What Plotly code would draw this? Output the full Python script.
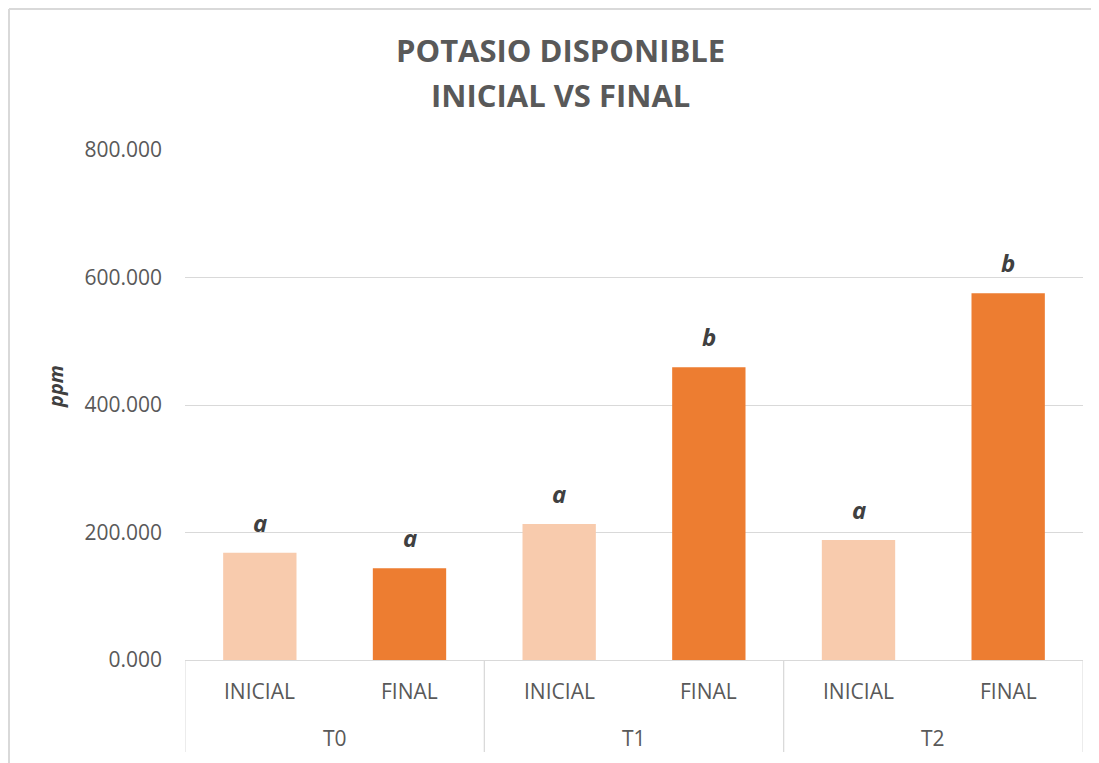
import plotly.graph_objects as go

groups = ["T0", "T0", "T1", "T1", "T2", "T2"]
stages = ["INICIAL", "FINAL", "INICIAL", "FINAL", "INICIAL", "FINAL"]
values = [168.3, 143.8, 213.3, 459.1, 188.2, 575.2]
letters = ["a", "a", "a", "b", "a", "b"]
y_ticks = [0, 200, 400, 600, 800]
title_lines = ["POTASIO DISPONIBLE", "INICIAL VS FINAL"]
y_title = "ppm"

stage_colors = {"INICIAL": "#F8CBAD", "FINAL": "#ED7D31"}

W, H = 1091, 755
L, R, T, B = 177, 16, 142, 103
pw, ph = W - L - R, H - T - B

idx = list(range(len(values)))

fig = go.Figure(go.Bar(
    x=idx,
    y=values,
    marker=dict(color=[stage_colors[s] for s in stages], line=dict(width=0)),
    width=0.49,
    hovertext=[f"{g} {s}" for g, s in zip(groups, stages)],
))

lab_font = dict(family="Open Sans", size=21, color="#595959")
title_font = dict(family="Open Sans", size=31, color="#595959")

# bar letters
for i, (v, t) in enumerate(zip(values, letters)):
    fig.add_annotation(
        x=i, y=v, text=f"<b><i>{t}</i></b>", showarrow=False,
        yanchor="bottom", yshift=12,
        font=dict(family="Open Sans", size=24, color="#404040"),
    )

# inner category labels
for i, s in enumerate(stages):
    fig.add_annotation(x=i, y=0, xref="x", yref="paper", text=s, showarrow=False,
                       yanchor="middle", yshift=-31, font=lab_font)

# outer group labels and dividers
div_depth = 92 / ph
unique_groups = list(dict.fromkeys(groups))
shapes = []
for g in unique_groups:
    members = [i for i, gg in enumerate(groups) if gg == g]
    center = sum(members) / len(members)
    fig.add_annotation(x=center, y=0, xref="x", yref="paper", text=g, showarrow=False,
                       yanchor="middle", yshift=-78, font=lab_font)
    for edge in (members[0] - 0.5, members[-1] + 0.5):
        shapes.append(dict(type="line", xref="x", yref="paper", x0=edge, x1=edge,
                           y0=0, y1=-div_depth, line=dict(color="#D9D9D9", width=1)))

# title (two lines, Excel-like spacing)
for line, cy in zip(title_lines, (42, 87)):
    fig.add_annotation(x=(552 - L) / pw, y=(H - B - cy) / ph, xref="paper", yref="paper",
                       text=f"<b>{line}</b>", showarrow=False, xanchor="center",
                       yanchor="middle", font=title_font)

# y-axis title
fig.add_annotation(x=(47 - L) / pw, y=(652 - 379) / ph - (0) , xref="paper", yref="paper",
                   text=f"<b><i>{y_title}</i></b>", showarrow=False, textangle=-90,
                   xanchor="center", yanchor="middle",
                   font=dict(family="Open Sans", size=20, color="#404040"))

# chart border (top and left)
shapes += [
    dict(type="line", xref="paper", yref="paper",
         x0=(1 - L) / pw, x1=(W - L) / pw, y0=(H - 1 - B) / ph, y1=(H - 1 - B) / ph,
         line=dict(color="#D9D9D9", width=2)),
    dict(type="line", xref="paper", yref="paper",
         x0=(1 - L) / pw, x1=(1 - L) / pw, y0=-B / ph, y1=(H - 1 - B) / ph,
         line=dict(color="#D9D9D9", width=2)),
]

fig.update_layout(
    width=W, height=H,
    margin=dict(l=L, r=R, t=T, b=B),
    paper_bgcolor="white", plot_bgcolor="white",
    font=dict(family="Open Sans", color="#595959", size=21),
    showlegend=False,
    xaxis=dict(
        range=[-0.5, len(values) - 0.5],
        showline=True, linecolor="#D9D9D9", linewidth=1,
        showticklabels=False, showgrid=False, ticks="", zeroline=False,
    ),
    yaxis=dict(
        range=[0, 800], tickvals=y_ticks, tickformat=".3f",
        showgrid=True, gridcolor="#D9D9D9", gridwidth=1,
        zeroline=False, showline=False, ticks="",
        ticklabelstandoff=22,
        tickfont=dict(size=21, color="#595959"),
    ),
    shapes=shapes,
)

fig.write_html("out.html")
